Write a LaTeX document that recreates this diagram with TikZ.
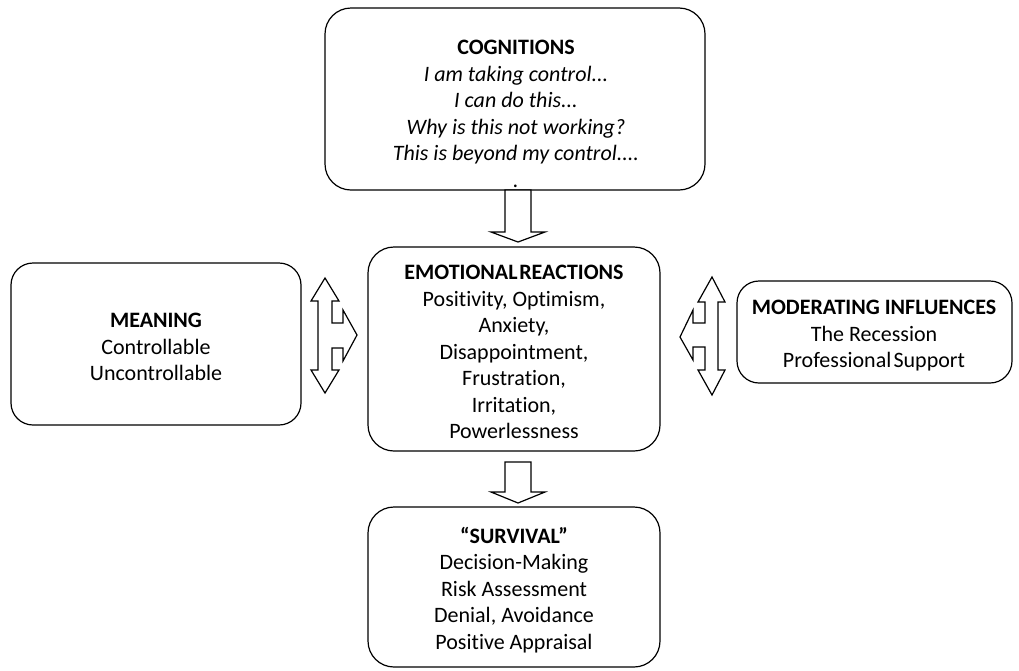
\documentclass[tikz,border=0pt]{standalone}
\usepackage{fontspec}
\setmainfont{Carlito}[Ligatures=NoCommon]
\begin{document}
\begin{tikzpicture}[x=1pt,y=-1pt,
  panel/.style={draw, line width=1.2pt, rounded corners=26pt, inner sep=0pt},
  label/.style={align=center, inner sep=0pt, font=\fontsize{22}{26.5}\selectfont},
  blockarrow/.style={draw, line width=1.2pt, fill=white, line join=miter}]
\useasboundingbox (0,0) rectangle (1019,670);

% boxes
\node[panel, minimum width=380pt, minimum height=182pt] (cog)  at (515,99)   {};
\node[panel, minimum width=292pt, minimum height=204pt] (emo)  at (514,349)  {};
\node[panel, minimum width=292pt, minimum height=160pt] (surv) at (514,587)  {};
\node[panel, minimum width=290pt, minimum height=162pt, rounded corners=22pt] (mean) at (156,344) {};
\node[panel, minimum width=275pt, minimum height=102pt, rounded corners=22pt] (mod)  at (874.5,332) {};

% texts
\node[label] (cogtxt) at (516,114) {\textbf{COGNITIONS}\\
  \textit{I am taking control...}\\
  \textit{I can do this...}\\
  \textit{Why is this not working?}\\
  \textit{This is beyond my control....}\\
  \textit{.}};
\node[label] (emotxt) at (514,352) {\textbf{EMOTIONAL\hspace{0.08em}REACTIONS}\\
  Positivity, Optimism,\\ Anxiety,\\ Disappointment,\\ Frustration,\\ Irritation,\\ Powerlessness};
\node[label] (survtxt) at (514,590) {\textbf{``SURVIVAL''}\\
  Decision-Making\\ Risk Assessment\\ Denial, Avoidance\\ Positive Appraisal};
\node[label] (meantxt) at (156,347) {\textbf{MEANING}\\ Controllable\\ Uncontrollable};
\node[label] (modtxt) at (874,336) {\textbf{MODERATING INFLUENCES}\\ The Recession\\ Professional\hspace{0.1em}Support};

% block arrow from cognitions down to emotional reactions
\draw[blockarrow] (505,190) -- (531,190) -- (531,232) -- (545,232) -- (518,242)
  -- (491,232) -- (505,232) -- cycle;
% block arrow from emotional reactions down to survival
\draw[blockarrow] (505,462) -- (531,462) -- (531,492) -- (545,492) -- (518,503)
  -- (491,492) -- (505,492) -- cycle;

% three-way arrow between meaning and emotional reactions
\draw[blockarrow] (325,278) -- (339,301) -- (332,301) -- (332,323) -- (343,323)
  -- (343,310) -- (357,335) -- (343,361) -- (343,348) -- (332,348) -- (332,370)
  -- (339,370) -- (325,393) -- (311,370) -- (318,370) -- (318,301) -- (311,301) -- cycle;

% three-way arrow between emotional reactions and moderating influences
\draw[blockarrow] (712,277) -- (725,302) -- (718,302) -- (718,370) -- (725,370)
  -- (712,395) -- (698,370) -- (705,370) -- (705,347) -- (693,347) -- (693,360)
  -- (680,337) -- (693,310) -- (693,323) -- (705,323) -- (705,302) -- (698,302) -- cycle;
\end{tikzpicture}
\end{document}
